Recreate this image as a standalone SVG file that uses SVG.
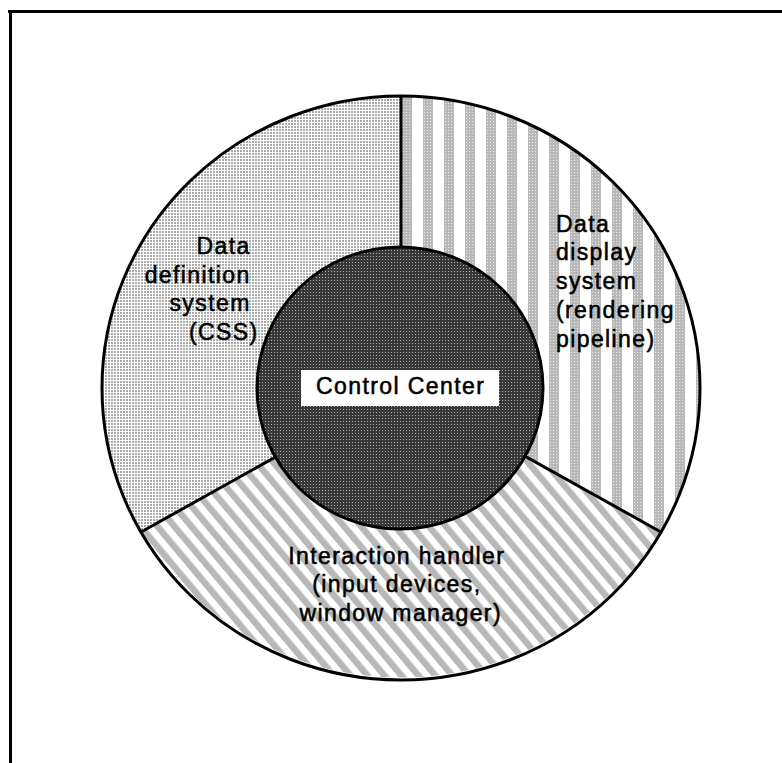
<svg xmlns="http://www.w3.org/2000/svg" width="782" height="763" viewBox="0 0 782 763">
  <style>
    .lbl { font-family: "Liberation Sans", Arial, sans-serif; font-size: 23px; letter-spacing: 1.4px; fill: #000; stroke: #000; stroke-width: 0.55px; }
    .edge { fill: none; stroke: #000; stroke-width: 3; }
  </style>
  <defs>
    <pattern id="dots" width="3" height="3" patternUnits="userSpaceOnUse">
      <rect width="3" height="3" fill="#ffffff"/>
      <rect width="2" height="2" fill="#aaaaaa"/>
    </pattern>
    <pattern id="vstripes" x="402" y="0" width="21" height="3" patternUnits="userSpaceOnUse">
      <rect width="21" height="3" fill="#ffffff"/>
      <rect width="10" height="3" fill="#b8b8b8"/>
      <rect x="1" y="1" width="1" height="1" fill="#e8e8e8"/>
      <rect x="4" y="1" width="1" height="1" fill="#e8e8e8"/>
      <rect x="7" y="1" width="1" height="1" fill="#e8e8e8"/>
    </pattern>
    <pattern id="dstripes" width="13" height="13" patternUnits="userSpaceOnUse" patternTransform="rotate(-40)">
      <rect width="13" height="13" fill="#ffffff"/>
      <rect width="6.5" height="13" fill="#b8b8b8"/>
    </pattern>
    <pattern id="dark" width="3" height="3" patternUnits="userSpaceOnUse">
      <rect width="3" height="3" fill="#383838"/>
      <rect x="1" y="1" width="1" height="1" fill="#b0b0b0"/>
    </pattern>
  </defs>

  <g id="frame">
    <line x1="8" y1="11.5" x2="782" y2="11.5" stroke="#000" stroke-width="3"/>
    <line x1="10.5" y1="10" x2="10.5" y2="763" stroke="#000" stroke-width="3"/>
  </g>

  <g id="data-definition">
    <path d="M401 387 L401 96 A299 292 0 0 0 142 531.5 Z" fill="url(#dots)"/>
  </g>
  <g id="data-display">
    <path d="M401 387 L401 96 A299 292 0 0 1 660 531.5 Z" fill="url(#vstripes)"/>
  </g>
  <g id="interaction-handler">
    <path d="M401 387 L660 531.5 A299 292 0 0 1 142 531.5 Z" fill="url(#dstripes)"/>
  </g>

  <g id="connectors">
    <ellipse class="edge" cx="401" cy="388" rx="299" ry="292"/>
    <line class="edge" x1="401" y1="96" x2="401" y2="387"/>
    <line class="edge" x1="401" y1="387" x2="142" y2="531.5"/>
    <line class="edge" x1="401" y1="387" x2="660" y2="531.5"/>
  </g>

  <g id="control-center">
    <ellipse cx="400" cy="388" rx="143" ry="141" fill="url(#dark)" stroke="#000" stroke-width="3"/>
    <rect x="301" y="370" width="198" height="36" fill="#ffffff"/>
    <text class="lbl" x="400.7" y="394" text-anchor="middle">Control Center</text>
  </g>

  <g id="labels">
    <text class="lbl" text-anchor="end">
      <tspan x="258.5" y="254">Data</tspan>
      <tspan x="258.5" y="282.7">definition</tspan>
      <tspan x="258.5" y="311.4">system</tspan>
      <tspan x="258.5" y="340">(CSS)</tspan>
    </text>
    <text class="lbl">
      <tspan x="556" y="231.5">Data</tspan>
      <tspan x="556" y="260.3">display</tspan>
      <tspan x="556" y="289.1">system</tspan>
      <tspan x="556" y="317.9">(rendering</tspan>
      <tspan x="556" y="346.7">pipeline)</tspan>
    </text>
    <text class="lbl" text-anchor="middle">
      <tspan x="400.7" y="563.5">Interaction handler</tspan>
      <tspan x="400.7" y="592.3">(input devices,</tspan>
      <tspan x="400.7" y="621">window manager)</tspan>
    </text>
  </g>
</svg>
